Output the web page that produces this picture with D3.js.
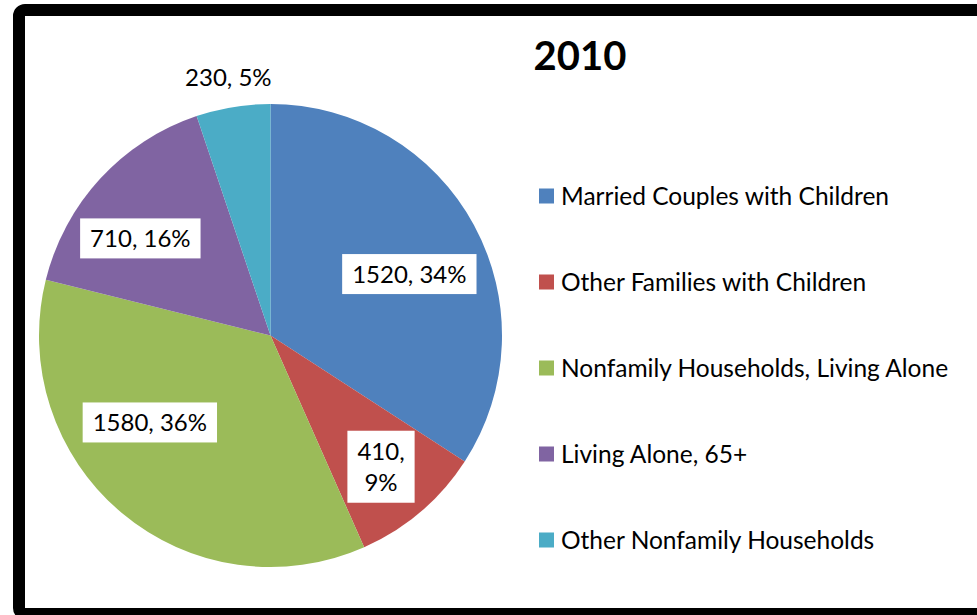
<!DOCTYPE html>
<html>
<head>
<meta charset="utf-8">
<script src="https://cdn.jsdelivr.net/npm/d3@7"></script>
<style>
  body { margin: 0; background: #fff; }
  svg { display: block; font-family: Lato, "Open Sans", sans-serif; }
</style>
</head>
<body>
<svg id="chart"></svg>
<script>
// household types, 2010
var categories = ["Married Couples with Children", "Other Families with Children",
                  "Nonfamily Households, Living Alone", "Living Alone, 65+",
                  "Other Nonfamily Households"];
var values = [1520, 410, 1580, 710, 230];
var percents = [34, 9, 36, 16, 5];
var colors = ["#4F81BD", "#C0504D", "#9BBB59", "#8064A2", "#4BACC6"];
var title = "2010";

var W = 977, H = 615;
var cx = 270.5, cy = 335.5, R = 231.5;

var svg = d3.select("#chart").attr("width", W).attr("height", H);

// chart frame (right edge runs off the picture)
svg.append("rect")
    .attr("x", 19).attr("y", 10)
    .attr("width", 975).attr("height", 604)
    .attr("rx", 6)
    .attr("fill", "#fff")
    .attr("stroke", "#000")
    .attr("stroke-width", 12);

var pie = d3.pie().sort(null).value(function (d) { return d; });
var arcs = pie(values);

var arc = d3.arc().innerRadius(0).outerRadius(R);

var g = svg.append("g").attr("transform", "translate(" + cx + "," + cy + ")");

g.selectAll("path.slice")
  .data(arcs)
  .join("path")
    .attr("class", "slice")
    .attr("d", arc)
    .attr("fill", function (d, i) { return colors[i]; });

// data labels: centroid on a ring, nudged like excel's best fit
var labelArc = d3.arc().innerRadius(158).outerRadius(158);
var outerArc = d3.arc().innerRadius(261).outerRadius(261);
var nudge = [[0, 14], [8, 11], [-19, -34], [-14, 10], [0, -1]];
var fs = 24;

arcs.forEach(function (d, i) {
    var inside = i !== 4;
    var c = inside ? labelArc.centroid(d) : outerArc.centroid(d);
    var x = c[0] + nudge[i][0], y = c[1] + nudge[i][1];
    var lines = i === 1 ? [values[i] + ",", percents[i] + "%"]
                        : [values[i] + ", " + percents[i] + "%"];
    var lh = 31;
    var lg = g.append("g").attr("transform", "translate(" + x + "," + y + ")");
    var box = lg.append("rect").attr("fill", "#fff");
    var t = lg.append("text")
        .attr("text-anchor", "middle")
        .style("font-size", fs + "px")
        .attr("fill", "#000");
    lines.forEach(function (s, k) {
        t.append("tspan")
            .attr("x", 0)
            .attr("y", (k - (lines.length - 1) / 2) * lh + fs * 0.36)
            .text(s);
    });
    var tw = t.node().getBBox().width;
    var bh = lines.length === 1 ? 40 : 72;
    box.attr("x", -tw / 2 - 10).attr("y", -bh / 2)
       .attr("width", tw + 20).attr("height", bh);
});

// title
svg.append("text")
    .attr("x", 580).attr("y", 70)
    .attr("text-anchor", "middle")
    .style("font-size", "40px")
    .style("font-weight", "bold")
    .text(title);

// legend
var legendY = d3.scalePoint().domain(categories).range([196, 540]);
var leg = svg.selectAll("g.legend")
  .data(categories)
  .join("g")
    .attr("class", "legend")
    .attr("transform", function (d) { return "translate(539," + legendY(d) + ")"; });

leg.append("rect")
    .attr("x", 0).attr("y", -7.5)
    .attr("width", 15).attr("height", 15)
    .attr("fill", function (d, i) { return colors[i]; });

leg.append("text")
    .attr("x", 22).attr("y", 8.5)
    .style("font-size", "24.5px")
    .attr("fill", "#000")
    .text(function (d) { return d; });
</script>
</body>
</html>
